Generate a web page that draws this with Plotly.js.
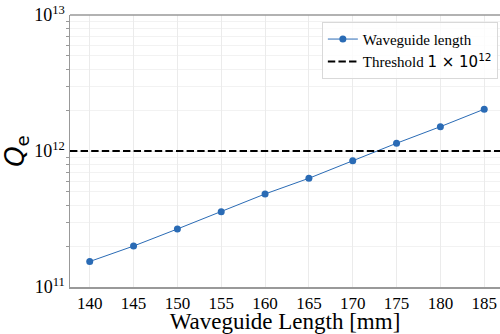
<!DOCTYPE html>
<html>
<head>
<meta charset="utf-8">
<script src="https://cdn.plot.ly/plotly-3.0.1.min.js"></script>
<style>html,body{margin:0;padding:0;overflow:hidden;background:#fff;}</style>
</head>
<body>
<div id="chart" style="width:500px;height:334px;"></div>
<script>
const lengths = [140, 145, 150, 155, 160, 165, 170, 175, 180, 185];
const qe = [1.54e11, 2.0e11, 2.67e11, 3.58e11, 4.83e11, 6.3e11, 8.49e11, 1.14e12, 1.51e12, 2.03e12];
const threshold = 1e12;
const xTicks = [140, 145, 150, 155, 160, 165, 170, 175, 180, 185];
const yTickVals = [1e11, 1e12, 1e13];
const yTickText = ['10<sup>11</sup>', '10<sup>12</sup>', '10<sup>13</sup>'];
const yMinorVals = [2e11, 3e11, 4e11, 5e11, 6e11, 7e11, 8e11, 9e11, 2e12, 3e12, 4e12, 5e12, 6e12, 7e12, 8e12, 9e12];

const serif = 'Liberation Serif';
const traces = [
  {
    x: lengths, y: qe, type: 'scatter', mode: 'lines+markers',
    name: 'Waveguide length',
    line: {color: '#2a6bb5', width: 1},
    marker: {color: '#2a6bb5', size: 7}
  },
  {
    x: [137.75, 186.8], y: [threshold, threshold], type: 'scatter', mode: 'lines',
    name: 'Threshold <span style="font-family:DejaVu Sans;font-size:15px">1 × 10<sup>12</sup></span>',
    line: {color: '#000', width: 2, dash: '7.4px,3.2px'}
  }
];
const layout = {
  width: 500, height: 334,
  margin: {l: 70, r: 0, t: 15, b: 47},
  paper_bgcolor: '#fff', plot_bgcolor: '#fff',
  font: {family: serif, color: '#000', size: 16},
  showlegend: true,
  legend: {
    x: 0.995, y: 0.975, xanchor: 'right', yanchor: 'top',
    bgcolor: 'rgba(255,255,255,0.8)', bordercolor: '#d9d9d9', borderwidth: 1,
    font: {family: serif, size: 15, color: '#000'},
    tracegroupgap: 0
  },
  xaxis: {
    range: [137.75, 186.8],
    tickvals: xTicks, ticks: '', tickfont: {family: serif, size: 17, color: '#000'},
    showgrid: true, gridcolor: '#ebebeb', gridwidth: 1,
    showline: true, linecolor: '#999', linewidth: 1.5, mirror: false,
    zeroline: false,
    title: {text: 'Waveguide Length [mm]', font: {family: serif, size: 23, color: '#000'}, standoff: 3}
  },
  yaxis: {
    type: 'log', range: [11, 13],
    tickvals: yTickVals, ticktext: yTickText,
    ticks: '', tickfont: {family: serif, size: 18, color: '#000'},
    showgrid: true, gridcolor: '#ebebeb', gridwidth: 1,
    minor: {tickvals: yMinorVals, ticks: 'outside', ticklen: 3, tickcolor: '#999', showgrid: true, gridcolor: '#f2f2f2'},
    showline: true, linecolor: '#999', linewidth: 1.5,
    zeroline: false,
    title: {text: '<i>Q</i><sub>e</sub>', font: {family: 'DejaVu Sans', size: 26, color: '#000'}, standoff: 6}
  },
  shapes: [
    {type: 'line', xref: 'paper', yref: 'paper', x0: 0, x1: 1, y0: 1, y1: 1, line: {color: '#999', width: 1.5}}
  ]
};
Plotly.newPlot('chart', traces, layout, {displayModeBar: false, staticPlot: true});
</script>
</body>
</html>
